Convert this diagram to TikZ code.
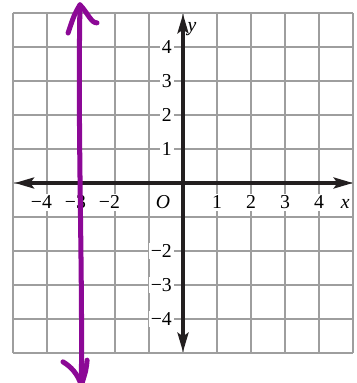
\documentclass[tikz,border=0pt]{standalone}
\usepackage{fontspec}
\setmainfont{Liberation Serif}
\usepackage{tikz}
\usetikzlibrary{arrows.meta}
\definecolor{gridgray}{RGB}{158,158,158}
\definecolor{axisblack}{RGB}{35,31,32}
\definecolor{penpurple}{RGB}{140,8,150}

\begin{document}
\begin{tikzpicture}[x=1cm,y=1cm,>={Stealth[length=16pt,width=9pt,inset=3pt]},
    lbl/.style={fill=white,inner sep=1.5pt,font=\fontsize{16.5}{18}\selectfont},
    pen/.style={penpurple,line width=4.2pt,line cap=round,line join=round}]
    \useasboundingbox (-5.382,-5.882) rectangle (5.088,5.382);
    % grid
    \draw[gridgray,line width=2.4pt] (-5,-5) grid (5,5);
    % x labels
    \node (xm4) at (-4,-0.76) [lbl,anchor=base]{\llap{−}4};
    \node (xm3) at (-3,-0.76) [lbl,anchor=base]{\llap{−}3};
    \node (xm2) at (-2,-0.76) [lbl,anchor=base]{\llap{−}2};
    \node (orig) at (-0.59,-0.76) [lbl,anchor=base]{\textit{O}};
    \node (xp1) at (1,-0.76) [lbl,anchor=base]{1};
    \node (xp2) at (2,-0.76) [lbl,anchor=base]{2};
    \node (xp3) at (3,-0.76) [lbl,anchor=base]{3};
    \node (xp4) at (4,-0.76) [lbl,anchor=base]{4};
    \node (xname) at (4.58,-0.76) [lbl,anchor=base west]{\textit{x}};
    % y labels
    \node (yp4) at (-0.27,3.81) [lbl,anchor=base east]{4};
    \node (yp3) at (-0.27,2.81) [lbl,anchor=base east]{3};
    \node (yp2) at (-0.27,1.81) [lbl,anchor=base east]{2};
    \node (yp1) at (-0.27,0.81) [lbl,anchor=base east]{1};
    \node (ym2) at (-0.27,-2.19) [lbl,anchor=base east]{−2};
    \node (ym3) at (-0.27,-3.19) [lbl,anchor=base east]{−3};
    \node (ym4) at (-0.27,-4.19) [lbl,anchor=base east]{−4};
    \node (yname) at (0.13,4.47) [anchor=base west,inner sep=0pt,font=\fontsize{16.5}{18}\selectfont]{\textit{y}};
    % axes
    \draw[axisblack,line width=4pt,<->] (-4.95,0) -- (5,0);
    \draw[axisblack,line width=4pt,<->] (0,-4.97) -- (0,4.97);
    % the line x = -3
    \coordinate (top) at (-3.03,5.24);
    \coordinate (bot) at (-2.99,-5.95);
    \coordinate (tl) at (-3.38,4.41);
    \coordinate (tr) at (-2.53,4.71);
    \coordinate (bl) at (-3.53,-5.26);
    \coordinate (br) at (-2.82,-5.21);
    \draw[pen] (bot) .. controls (-2.95,-2.5) and (-3.1,1.5) .. (top);
    \draw[pen] (tl) .. controls (-3.2,4.95) .. (top) .. controls (-2.8,5.0) and (-2.7,4.7) .. (tr);
    \draw[pen] (bl) .. controls (-3.3,-5.4) and (-3.1,-5.6) .. (bot);
    \draw[pen] (br) .. controls (-2.85,-5.5) .. (bot);
\end{tikzpicture}
\end{document}
